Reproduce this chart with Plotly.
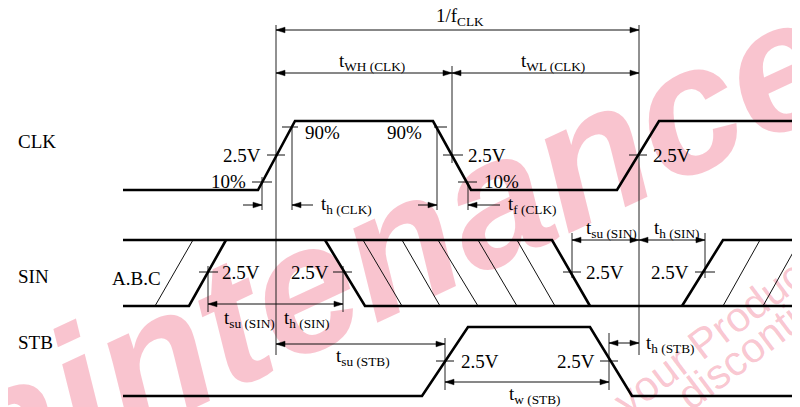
import math
import plotly.graph_objects as go

# ---------------- data (diagram units: x = time axis, y = level axis) ----------------
CLK_T = [123, 258, 295, 433, 471, 617, 659, 800]
CLK_V = [190, 190, 121, 121, 190, 190, 121, 121]

STB_T = [123, 422, 468, 590, 632, 800]
STB_V = [396, 396, 327, 327, 396, 396]

# SIN bus: thick polylines (x list, y list)
SIN_THICK = [
    ([123, 552, 590], [240, 240, 306]),
    ([123, 189, 226], [306, 306, 240]),
    ([325, 365, 800], [240, 306, 306]),
    ([682, 723, 800], [306, 240, 240]),
]
# SIN hatch (don't-care) thin lines: (x0, y0, x1, y1)
SIN_HATCH = [
    (155, 306, 193, 240),
    (363, 240, 402, 306), (402, 240, 440, 306), (438, 240, 478, 306),
    (478, 240, 517, 306), (517, 240, 555, 306),
    (723, 306, 760, 240), (763, 306, 800, 240),
]

# vertical reference lines: (x, y0, y1)
GUIDES = [
    (276, 25, 355), (639, 25, 355), (452, 66, 163),
    (262, 177, 210), (292, 128, 210), (437, 127, 210), (468, 183, 210),
    (208, 266, 312), (343, 266, 312),
    (572, 233, 278), (705, 233, 278),
    (445, 338, 390), (609, 333, 390),
]

# level ticks: (y, x0, x1)
TICKS = [
    (127, 282, 298), (155, 267, 285), (182, 252, 272),
    (127, 434, 447), (155, 443, 463), (182, 458, 477),
    (155, 629, 647),
    (272, 199, 218), (272, 333, 352), (272, 563, 581), (272, 695, 715),
    (361, 436, 454), (361, 600, 618),
]

# dimension arrows: (y, x_from, x_to, both_heads)
ARROWS = [
    (30, 276, 639, True),
    (73, 276, 452, True), (73, 452, 639, True),
    (205, 243, 262, False), (205, 313, 292, False),
    (205, 418, 437, False), (205, 500, 468, False),
    (304, 208, 343, True),
    (240, 572, 639, True), (240, 639, 705, True),
    (344, 276, 445, True), (343, 609, 639, True),
    (382, 445, 609, True),
]

# labels: (text, x, y, xanchor)
LABELS = [
    ("CLK", 16, 141, "left"), ("SIN", 16, 276, "left"), ("STB", 16, 342, "left"),
    ("A.B.C", 110, 278, "left"),
    ("1/f<sub>CLK</sub>", 434, 17, "left"),
    ("t<sub>WH (CLK)</sub>", 337, 62, "left"),
    ("t<sub>WL (CLK)</sub>", 519, 62, "left"),
    ("90%", 303, 132, "left"), ("2.5V", 263, 155, "right"), ("10%", 248, 181, "right"),
    ("90%", 424, 132, "right"), ("2.5V", 466, 155, "left"), ("10%", 482, 181, "left"),
    ("2.5V", 651, 155, "left"),
    ("t<sub>h (CLK)</sub>", 319, 205, "left"),
    ("t<sub>f (CLK)</sub>", 506, 205, "left"),
    ("2.5V", 220, 272, "left"), ("2.5V", 331, 272, "right"),
    ("2.5V", 584, 272, "left"), ("2.5V", 691, 272, "right"),
    ("t<sub>su (SIN)</sub>", 222, 319, "left"), ("t<sub>h (SIN)</sub>", 282, 319, "left"),
    ("t<sub>su (SIN)</sub>", 584, 229, "left"), ("t<sub>h (SIN)</sub>", 652, 229, "left"),
    ("2.5V", 459, 361, "left"), ("2.5V", 597, 361, "right"),
    ("t<sub>su (STB)</sub>", 334, 357, "left"), ("t<sub>h (STB)</sub>", 644, 344, "left"),
    ("t<sub>w (STB)</sub>", 507, 395, "left"),
]

# background watermark texts: (text, centre x, centre y, angle deg, size, weight, style)
WATERMARKS = [
    ("Maintenance", 318, 262, 25, 181, "bold", "italic"),
    ("regarding your Product", 636, 388, 37, 42, "normal", "normal"),
    ("discontinued", 774, 326, 37, 42, "normal", "normal"),
]

FONT = "Liberation Serif"
PINK = "rgba(236,60,95,0.30)"

fig = go.Figure()

for text, cx, cy, ang, size, weight, style in WATERMARKS:
    dx, dy = math.cos(math.radians(ang)) * 300, -math.sin(math.radians(ang)) * 300
    fig.add_shape(type="line", x0=cx - dx, y0=cy - dy, x1=cx + dx, y1=cy + dy, layer="below",
                  line=dict(width=0, color="rgba(0,0,0,0)"),
                  label=dict(text=text, textposition="middle", yanchor="middle",
                             font=dict(family="Liberation Sans", size=size, color=PINK,
                                       weight=weight, style=style)))


def add_lines(xs, ys, width, color="black"):
    fig.add_trace(go.Scatter(x=xs, y=ys, mode="lines", hoverinfo="skip",
                             line=dict(color=color, width=width, shape="linear"),
                             showlegend=False))


# thin guides
gx, gy = [], []
for x, y0, y1 in GUIDES:
    gx += [x, x, None]
    gy += [y0, y1, None]
add_lines(gx, gy, 1, "#222")

# ticks
tx, ty = [], []
for y, x0, x1 in TICKS:
    tx += [x0, x1, None]
    ty += [y, y, None]
add_lines(tx, ty, 1, "#111")

# hatch
hx, hy = [], []
for x0, y0, x1, y1 in SIN_HATCH:
    hx += [x0, x1, None]
    hy += [y0, y1, None]
add_lines(hx, hy, 1, "#111")

# arrows shafts + heads
ax_, ay_ = [], []
px, py = [], []
HL, HW = 9, 2.8
for y, x0, x1, both in ARROWS:
    ax_ += [x0, x1, None]
    ay_ += [y, y, None]
    d = 1 if x1 > x0 else -1
    px += [x1, x1 - d * HL, x1 - d * HL, x1, None]
    py += [y, y - HW, y + HW, y, None]
    if both:
        px += [x0, x0 + d * HL, x0 + d * HL, x0, None]
        py += [y, y - HW, y + HW, y, None]
add_lines(ax_, ay_, 1, "#111")
fig.add_trace(go.Scatter(x=px, y=py, mode="lines", fill="toself", fillcolor="black",
                         line=dict(color="black", width=0.5), hoverinfo="skip",
                         showlegend=False))

# thick waveforms
add_lines(CLK_T, CLK_V, 2.6)
add_lines(STB_T, STB_V, 2.6)
sx, sy = [], []
for xs, ys in SIN_THICK:
    sx += xs + [None]
    sy += ys + [None]
add_lines(sx, sy, 2.6)

for text, x, y, xa in LABELS:
    fig.add_annotation(x=x, y=y, text=text, showarrow=False, xanchor=xa, yanchor="middle",
                       font=dict(family=FONT, size=19, color="black"))

# the page body has an 8px margin: the figure fills the rest of the 800x407 window
fig.update_layout(
    width=792, height=399, margin=dict(l=0, r=0, t=0, b=0),
    paper_bgcolor="white", plot_bgcolor="white", showlegend=False,
    xaxis=dict(range=[8, 800], visible=False, fixedrange=True),
    yaxis=dict(range=[407, 8], visible=False, fixedrange=True),
)
fig.write_html("out.html")
